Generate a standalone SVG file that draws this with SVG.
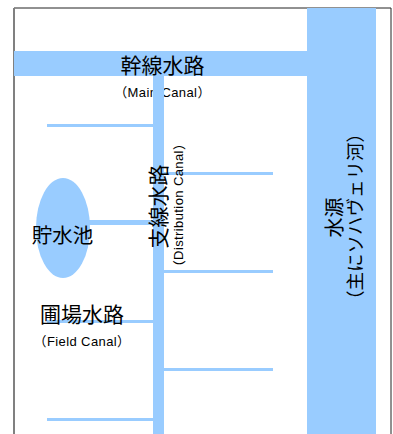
<svg xmlns="http://www.w3.org/2000/svg" width="393" height="434" viewBox="0 0 393 434">
<style>
.w{fill:#99CCFF;stroke:none}
.ln{stroke:#99CCFF;stroke-width:3;fill:none}
.jp{font-family:"Noto Sans CJK JP","Liberation Sans",sans-serif;fill:#000}
.en{font-family:"Liberation Sans","Noto Sans CJK JP",sans-serif;fill:#000;font-size:13px;letter-spacing:0.4px}
</style>
<rect width="393" height="434" fill="#fff"/>
<g id="frame">
<polyline points="14,8 391,8 391,434" fill="none" stroke="#222" stroke-width="1"/>
<line x1="14" y1="8" x2="14" y2="434" stroke="#808080" stroke-width="2"/>
</g>
<g id="connectors">
<line class="ln" x1="47" y1="125.5" x2="153" y2="125.5"/>
<line class="ln" x1="47" y1="321.5" x2="153" y2="321.5"/>
<line class="ln" x1="47" y1="419.5" x2="153" y2="419.5"/>
<line class="ln" x1="164" y1="173.5" x2="273" y2="173.5"/>
<line class="ln" x1="164" y1="271.5" x2="273" y2="271.5"/>
<line class="ln" x1="164" y1="369.5" x2="273" y2="369.5"/>
<rect class="w" x="88" y="220" width="66" height="5"/>
</g>
<g id="water-source">
<rect class="w" x="307" y="8" width="69" height="426"/>
<text class="jp" font-size="20" text-anchor="middle" dominant-baseline="central" transform="rotate(-90 333 217.5)" x="333" y="217.5">水源</text>
<text class="jp" font-size="18.5" text-anchor="middle" dominant-baseline="central" transform="rotate(-90 354 216.5)" x="354" y="216.5">（主にソハヴェリ河）</text>
</g>
<g id="main-canal">
<rect class="w" x="14" y="51" width="293" height="25"/>
<text class="jp" font-size="21" text-anchor="middle" x="162.5" y="72.5">幹線水路</text>
<text class="en" text-anchor="middle" x="162.5" y="97"><tspan class="jp">（</tspan>Main Canal<tspan class="jp">）</tspan></text>
</g>
<g id="distribution-canal">
<rect class="w" x="153" y="76" width="11" height="358"/>
<text class="jp" font-size="21" text-anchor="middle" dominant-baseline="central" transform="rotate(-90 157 206.5)" x="157" y="206.5">支線水路</text>
<text class="en" text-anchor="middle" dominant-baseline="central" transform="rotate(-90 178 205)" x="178" y="205"><tspan class="jp">（</tspan>Distribution Canal<tspan class="jp">）</tspan></text>
</g>
<g id="reservoir">
<ellipse class="w" cx="63" cy="228" rx="27" ry="50"/>
<text class="jp" font-size="20.5" text-anchor="middle" x="62.5" y="243">貯水池</text>
</g>
<g id="field-canal">
<text class="jp" font-size="21" text-anchor="middle" x="82" y="321.5">圃場水路</text>
<text class="en" text-anchor="middle" x="82" y="346"><tspan class="jp">（</tspan>Field Canal<tspan class="jp">）</tspan></text>
</g>
</svg>
